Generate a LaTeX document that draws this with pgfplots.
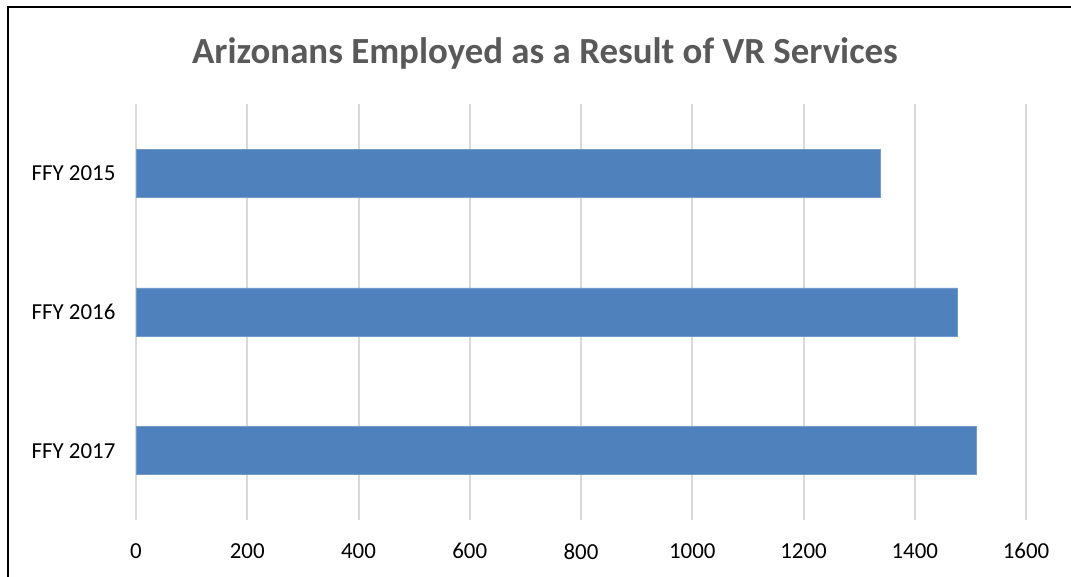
\documentclass[border=0pt]{standalone}
\usepackage{fontspec}
\setmainfont{Carlito}
\usepackage{pgfplots}
\pgfplotsset{compat=1.18}
\definecolor{barblue}{HTML}{4F81BD}
\definecolor{gridgray}{HTML}{D9D9D9}
\definecolor{titlegray}{HTML}{595959}
\begin{document}
\begin{tikzpicture}[x=1bp,y=1bp]
\path[use as bounding box] (0,0) rectangle (1071,577);
\draw[line width=2bp] (7.5,0) -- (7.5,569.5) -- (1071,569.5);
\node[font=\fontsize{37}{42}\selectfont\bfseries, text=titlegray] at (545,524) {Arizonans Employed as a Result of VR Services};
\begin{axis}[at={(136bp,57bp)}, anchor=south west, scale only axis, width=890bp, height=416bp,
 xbar, bar width=48bp, xmin=0, xmax=1600, ymin=-0.5, ymax=2.5,
 ytick={0,1,2}, yticklabels={FFY 2017, FFY 2016, FFY 2015},
 xtick={0,200,...,1600}, xmajorgrids, grid style={gridgray, line width=2bp},
 axis x line*=bottom, axis y line*=left, axis line style={draw=none},
 major tick length=0pt,
 tick label style={font=\fontsize{23}{27}\selectfont, text=black},
 /pgf/number format/assume math mode=true, /pgf/number format/1000 sep={},
 xticklabel style={yshift=-20bp}, yticklabel style={xshift=-17bp}]
\addplot[fill=barblue, draw=barblue!80!white] coordinates {(1510,0) (1476,1) (1338,2)};
\end{axis}
\end{tikzpicture}
\end{document}
